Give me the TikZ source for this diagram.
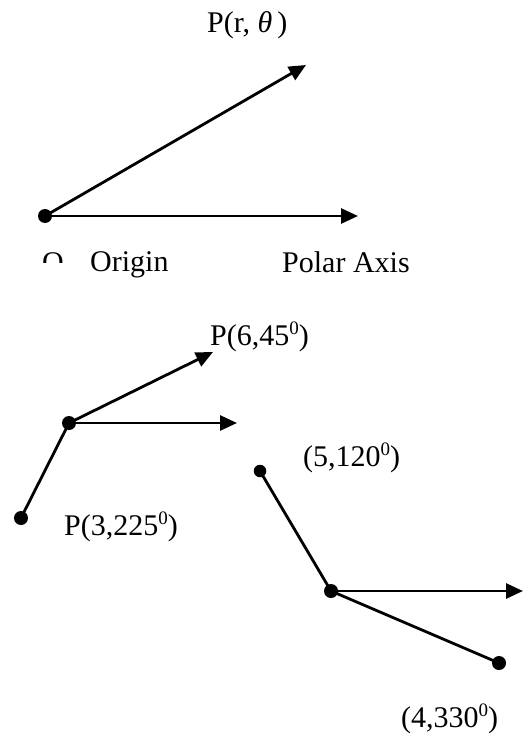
\documentclass[tikz,border=0pt]{standalone}
\usepackage{fontspec}
\setmainfont{Liberation Serif}
\usetikzlibrary{arrows.meta}
\newcommand{\degsup}[1]{\raisebox{0.75ex}{\fontsize{19}{20}\selectfont #1}}
\begin{document}
\begin{tikzpicture}[x=1pt,y=1pt,
  ray/.style={line width=2.8pt,-{Triangle[length=17pt,width=15pt]}},
  seg/.style={line width=2.8pt},
  dot/.style={circle,fill=black,inner sep=0pt,minimum size=14pt},
  sdot/.style={circle,fill=black,inner sep=0pt,minimum size=12.5pt},
  lbl/.style={font=\fontsize{30}{36}\selectfont,inner sep=0pt,anchor=base west}]
\useasboundingbox (0,0) rectangle (528,-733);
% top diagram
\node[dot] (O) at (45,-216) {};
\coordinate (P) at (306,-65);
\coordinate (A) at (358,-216);
\draw[ray] (O.center) -- (P);
\draw[ray] (O.center) -- (A);
\node[lbl] (lp) at (207,-33) {P(r, \textit{θ}\,)};
\begin{scope}
\clip (0,-200) rectangle (528,-262);
\node[lbl] (lo) at (42,-272) {O};
\end{scope}
\node[lbl] (lorig) at (90,-271) {Origin};
\node[lbl] (lax) at (282,-272) {Polar Axis};
% middle diagram
\node[dot] (M) at (69,-423) {};
\coordinate (M1) at (237,-423);
\coordinate (M2) at (213,-352);
\draw[ray] (M.center) -- (M1);
\draw[ray] (M.center) -- (M2);
\node[dot] (Q) at (21,-518) {};
\draw[seg] (M.center) -- (Q.center);
\node[lbl] (l45) at (210,-345) {P(6,45\degsup{0})};
\node[lbl] (l225) at (64,-535) {P(3,225\degsup{0})};
% bottom diagram
\node[dot] (B) at (331,-591) {};
\coordinate (B1) at (523,-591);
\draw[ray] (B.center) -- (B1);
\node[sdot] (R) at (260,-471) {};
\draw[seg] (B.center) -- (R.center);
\node[dot] (S) at (499,-663) {};
\draw[seg] (B.center) -- (S.center);
\node[lbl] (l120) at (303,-466) {(5,120\degsup{0})};
\node[lbl] (l330) at (401,-727) {(4,330\degsup{0})};
\end{tikzpicture}
\end{document}
